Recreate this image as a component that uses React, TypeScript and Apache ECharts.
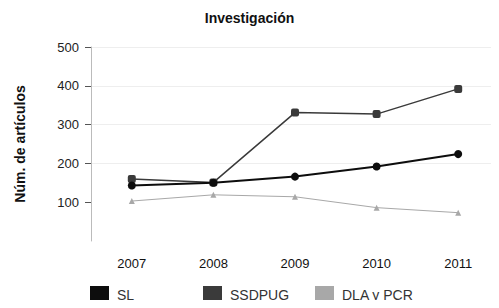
import React, { useEffect, useRef } from "react";
import * as echarts from "echarts";

const years = ["2007", "2008", "2009", "2010", "2011"];
const slValues = [143, 150, 166, 192, 224];
const ssdpugValues = [160, 151, 331, 327, 392];
const dlaValues = [103, 119, 114, 86, 73];
const seriesNames = ["SL", "SSDPUG", "DLA y PCR"];
const seriesColors = ["#0d0d0d", "#3a3a3a", "#a8a8a8"];
const yTickValues = [100, 200, 300, 400, 500];

export default function App() {
  const ref = useRef<HTMLDivElement>(null);
  useEffect(() => {
    if (!ref.current) return;
    const chart = echarts.init(ref.current, undefined, { renderer: "svg" });
    const font = "Liberation Sans, Arial, sans-serif";
    const values = [slValues, ssdpugValues, dlaValues];
    const symbols = ["circle", "roundRect", "triangle"];
    const sizes = [8, 8, 6];
    const widths = [2, 1.5, 1];
    const legendLefts = [90, 203, 315];
    chart.setOption({
      animation: false,
      textStyle: { fontFamily: font },
      title: {
        text: "Investigación",
        left: "center",
        top: 6,
        textStyle: { fontSize: 14, fontWeight: "bold", color: "#111", fontFamily: font },
      },
      grid: { left: 91, right: 0, top: 47, bottom: 67, containLabel: false },
      legend: seriesNames.map((n, i) => ({
        data: [n],
        left: legendLefts[i],
        top: 286,
        padding: 0,
        icon: "rect",
        itemWidth: 19,
        itemHeight: 18,
        itemGap: 0,
        textStyle: { fontSize: 14, color: "#333", fontFamily: font, padding: [0, 0, 0, 3] },
      })),
      xAxis: {
        type: "category",
        data: years,
        boundaryGap: true,
        axisLine: { show: false },
        axisTick: { show: false },
        axisLabel: { fontSize: 13, color: "#111", margin: 16, fontFamily: font },
      },
      yAxis: {
        type: "value",
        min: 0,
        max: 500,
        interval: 100,
        name: "Núm. de artículos",
        nameLocation: "middle",
        nameGap: 64,
        nameTextStyle: { fontSize: 14, fontWeight: "bold", color: "#111", fontFamily: font },
        axisLine: { show: true, lineStyle: { color: "#bbb", width: 1 } },
        axisTick: { show: true, length: 6, customValues: yTickValues, lineStyle: { color: "#555" } },
        axisLabel: {
          fontSize: 13,
          color: "#222",
          margin: 12,
          fontFamily: font,
          formatter: (v: number) => (v === 0 ? "" : String(v)),
        },
        splitLine: {
          show: true,
          lineStyle: { color: ["#fff", "#eee", "#eee", "#eee", "#eee", "#999"], width: 1 },
        },
      },
      series: seriesNames.map((n, i) => ({
        name: n,
        type: "line",
        data: values[i],
        symbol: symbols[i],
        symbolSize: sizes[i],
        itemStyle: { color: seriesColors[i] },
        lineStyle: { color: seriesColors[i], width: widths[i] },
        z: 3 - i,
      })),
    });
    return () => chart.dispose();
  }, []);
  return <div ref={ref} style={{ width: 499, height: 308, margin: -8 }} />;
}
